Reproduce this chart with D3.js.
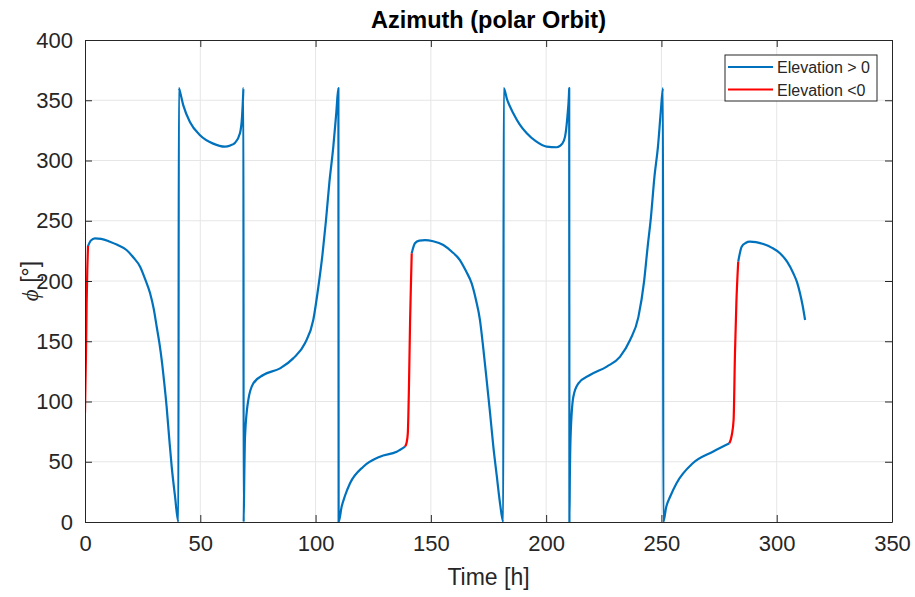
<!DOCTYPE html>
<html>
<head>
<meta charset="utf-8">
<script src="https://cdn.jsdelivr.net/npm/d3@7"></script>
<style>
    body { margin: 0; background: #fff; }
    .axis text { font-family: "Liberation Sans", Arial, sans-serif; fill: #262626; }
    .grid line { stroke: #e6e6e6; stroke-width: 1; }
    .legend text { font-family: "Liberation Sans", Arial, sans-serif; font-size: 16px; fill: #262626; }
</style>
</head>
<body>
<div id="chart"></div>
<script>
// azimuth [deg] vs time [h], split by elevation sign
var xTicks = [0, 50, 100, 150, 200, 250, 300, 350];
var yTicks = [0, 50, 100, 150, 200, 250, 300, 350, 400];
var seriesNames = ['Elevation > 0', 'Elevation <0'];

// elevation > 0 (wraps 0 <-> 360 kept as one connected line)
var abovePass1 = [[1.3,229],[2.5,233.5],[4.3,235.4],[7,235],[10.8,232.6],[14,230],[18,225.7],[21,219.5],[23.9,211.9],
    [26,202],[28.2,190],[29.8,177],[31.1,162],[32.3,148],[33.3,134],[34.4,115],[35.4,95.7],[36.5,70],[37.6,45.9],
    [39,22],[40.5,0],[40.7,360],[40.9,359],[42.6,346],[45.5,332],[49.9,321],[55.6,314],[60.7,311.5],[63,312.5],
    [65.1,314.8],[67.2,322.6],[68.1,336],[68.6,355],[68.7,360],[68.8,0],[69.1,40],[69.4,70.8],[70.8,101],[73,115],
    [77.3,122],[84.6,127.5],[90.3,135.8],[95.4,148.3],[99,167.6],[101.2,195],[103,222],[104.5,250],[106,282],
    [107.7,311.5],[109,340],[109.9,360],[110,0],[111.3,12.7],[112.8,22],[114.9,32],[120.7,45.9],[127.9,54.2],
    [135.2,58.3],[138.8,62.5]];
var abovePass2 = [[141.7,223],[143.1,231.3],[145,233.5],[147.5,234],[151,233],[155.4,229.9],[159,224.5],[162.6,217.4],
    [165.3,208],[167.7,198],[169.6,184],[171.3,167.6],[172.8,143],[174.2,117.8],[175.7,90],[177.1,62.5],[178.6,38],
    [180,15.5],[181.4,0],[181.6,360],[183,351],[185.8,339],[188.5,330],[191.6,322.6],[195.5,316],[200.2,311.5],
    [204.6,311],[207,314],[208.2,319.8],[209.2,336],[209.9,355],[210,360],[210.1,0],[210.3,40],[210.6,70.8],
    [211.8,104],[214,115],[219,122],[226.3,129],[232,137],[236.4,151],[240,170],[242.5,200],[244,228],
    [245.4,252],[247,287],[248.5,311.5],[249.7,340],[250.7,360],[250.8,0],[252.1,12.7],[254,22],[256.5,32],
    [263.6,48.7],[272.3,58.3],[279.5,65.3]];
var abovePass3 = [[283.3,216],[284.8,228.5],[286.5,231.5],[288.4,232.6],[291,232.3],[294.2,230.7],[298,227.5],
    [301.4,223],[304.5,216],[307.2,206.4],[308.8,199],[310.1,189.8],[311.3,179],[312.3,167.6]];

// elevation < 0
var belowPass1 = [[0,90.7],[0.2,115],[0.43,140],[0.7,180],[1,210],[1.3,229]];
var belowPass2 = [[138.8,62.5],[139.5,66],[140,73.6],[140.5,112],[141,167.6],[141.4,200],[141.7,223]];
var belowPass3 = [[279.5,65.3],[280.5,72],[281.3,84.6],[281.9,140],[282.5,181.5],[283.3,216]];

var lineColors = ['#0072bd', '#ff0000'];

AzimuthPlot = function(_parentElement) {
    this.parentElement = _parentElement;
    this.initVis();
}

AzimuthPlot.prototype.initVis = function() {
    var vis = this;

    vis.margin = { top: 40, right: 23, bottom: 75, left: 85 };
    vis.width = 915 - vis.margin.left - vis.margin.right;
    vis.height = 597 - vis.margin.top - vis.margin.bottom;

    vis.root = d3.select('#' + vis.parentElement)
        .append('svg')
        .attr('width', 915)
        .attr('height', 597);

    vis.svg = vis.root.append('g')
        .attr('transform', 'translate(' + vis.margin.left + ',' + vis.margin.top + ')');

    vis.xScale = d3.scaleLinear().domain([0, 350]).range([0, vis.width]);
    vis.yScale = d3.scaleLinear().domain([0, 400]).range([vis.height, 0]);

    // grid
    vis.svg.append('g').attr('class', 'grid')
        .selectAll('line.gx').data(xTicks.slice(1, -1)).enter()
        .append('line')
        .attr('x1', function(d) { return vis.xScale(d); })
        .attr('x2', function(d) { return vis.xScale(d); })
        .attr('y1', 0).attr('y2', vis.height);
    vis.svg.append('g').attr('class', 'grid')
        .selectAll('line.gy').data(yTicks.slice(1, -1)).enter()
        .append('line')
        .attr('y1', function(d) { return vis.yScale(d); })
        .attr('y2', function(d) { return vis.yScale(d); })
        .attr('x1', 0).attr('x2', vis.width);

    vis.updateVis();
}

AzimuthPlot.prototype.updateVis = function() {
    var vis = this;

    var line = d3.line()
        .curve(d3.curveMonotoneX)
        .x(function(d) { return vis.xScale(d[0]); })
        .y(function(d) { return vis.yScale(d[1]); });

    vis.root.append('clipPath').attr('id', 'plot-clip')
        .append('rect').attr('width', vis.width).attr('height', vis.height + 1).attr('y', -1);

    var tracks = [
        { pts: abovePass1, color: lineColors[0] },
        { pts: abovePass2, color: lineColors[0] },
        { pts: abovePass3, color: lineColors[0] },
        { pts: belowPass1, color: lineColors[1] },
        { pts: belowPass2, color: lineColors[1] },
        { pts: belowPass3, color: lineColors[1] }
    ];

    vis.svg.append('g')
        .attr('clip-path', 'url(#plot-clip)')
        .selectAll('.track').data(tracks).enter()
        .append('path')
        .attr('class', 'track')
        .attr('d', function(d) { return line(d.pts); })
        .attr('fill', 'none')
        .attr('stroke', function(d) { return d.color; })
        .attr('stroke-width', 2.2)
        .attr('stroke-linejoin', 'round');

    // axes, matlab style: ticks inside, box all round
    var xAxis = d3.axisBottom(vis.xScale).tickValues(xTicks).tickSizeInner(-7).tickSizeOuter(0).tickPadding(13);
    var xTop = d3.axisTop(vis.xScale).tickValues(xTicks).tickSizeInner(-7).tickSizeOuter(0).tickFormat('');
    var yAxis = d3.axisLeft(vis.yScale).tickValues(yTicks).tickSizeInner(-7).tickSizeOuter(0).tickPadding(12);
    var yRight = d3.axisRight(vis.yScale).tickValues(yTicks).tickSizeInner(-7).tickSizeOuter(0).tickFormat('');

    [[xAxis, 'translate(0,' + vis.height + ')'], [xTop, null],
     [yAxis, null], [yRight, 'translate(' + vis.width + ',0)']].forEach(function(a) {
        var g = vis.svg.append('g').attr('class', 'axis').call(a[0]);
        if (a[1]) g.attr('transform', a[1]);
        g.selectAll('path.domain').attr('stroke', '#262626').attr('stroke-width', 1);
        g.selectAll('.tick line').attr('stroke', '#262626');
        g.selectAll('text').attr('font-size', 22).attr('fill', '#262626');
    });

    vis.svg.append('text')
        .attr('x', vis.width / 2).attr('y', vis.height + 63)
        .attr('text-anchor', 'middle')
        .attr('font-family', '"Liberation Sans", Arial, sans-serif')
        .attr('font-size', 23).attr('fill', '#262626')
        .text('Time [h]');

    var yLabel = vis.svg.append('text')
        .attr('transform', 'translate(-47,' + vis.height / 2 + ') rotate(-90)')
        .attr('text-anchor', 'middle')
        .attr('font-family', '"Liberation Sans", Arial, sans-serif')
        .attr('font-size', 23).attr('fill', '#262626');
    yLabel.append('tspan').attr('font-style', 'italic').attr('font-family', '"Liberation Serif", serif').text('\u03d5');
    yLabel.append('tspan').text(' [°]');

    vis.root.append('text')
        .attr('x', vis.margin.left + vis.width / 2).attr('y', 28)
        .attr('text-anchor', 'middle')
        .attr('font-family', '"Liberation Sans", Arial, sans-serif')
        .attr('font-size', 23.5).attr('font-weight', 'bold').attr('fill', '#000')
        .text('Azimuth (polar Orbit)');

    // legend
    var lg = vis.root.append('g').attr('class', 'legend')
        .attr('transform', 'translate(725,55)');
    lg.append('rect').attr('width', 152).attr('height', 46)
        .attr('fill', '#fff').attr('stroke', '#262626').attr('stroke-width', 1);
    var items = lg.selectAll('.item').data(seriesNames).enter()
        .append('g').attr('class', 'item')
        .attr('transform', function(d, i) { return 'translate(0,' + (12 + i * 22.5) + ')'; });
    items.append('line').attr('x1', 3).attr('x2', 48)
        .attr('stroke', function(d, i) { return lineColors[i]; }).attr('stroke-width', 2.2);
    items.append('text').attr('x', 52).attr('y', 6).text(function(d) { return d; });
}

var plot = new AzimuthPlot('chart');
</script>
</body>
</html>
